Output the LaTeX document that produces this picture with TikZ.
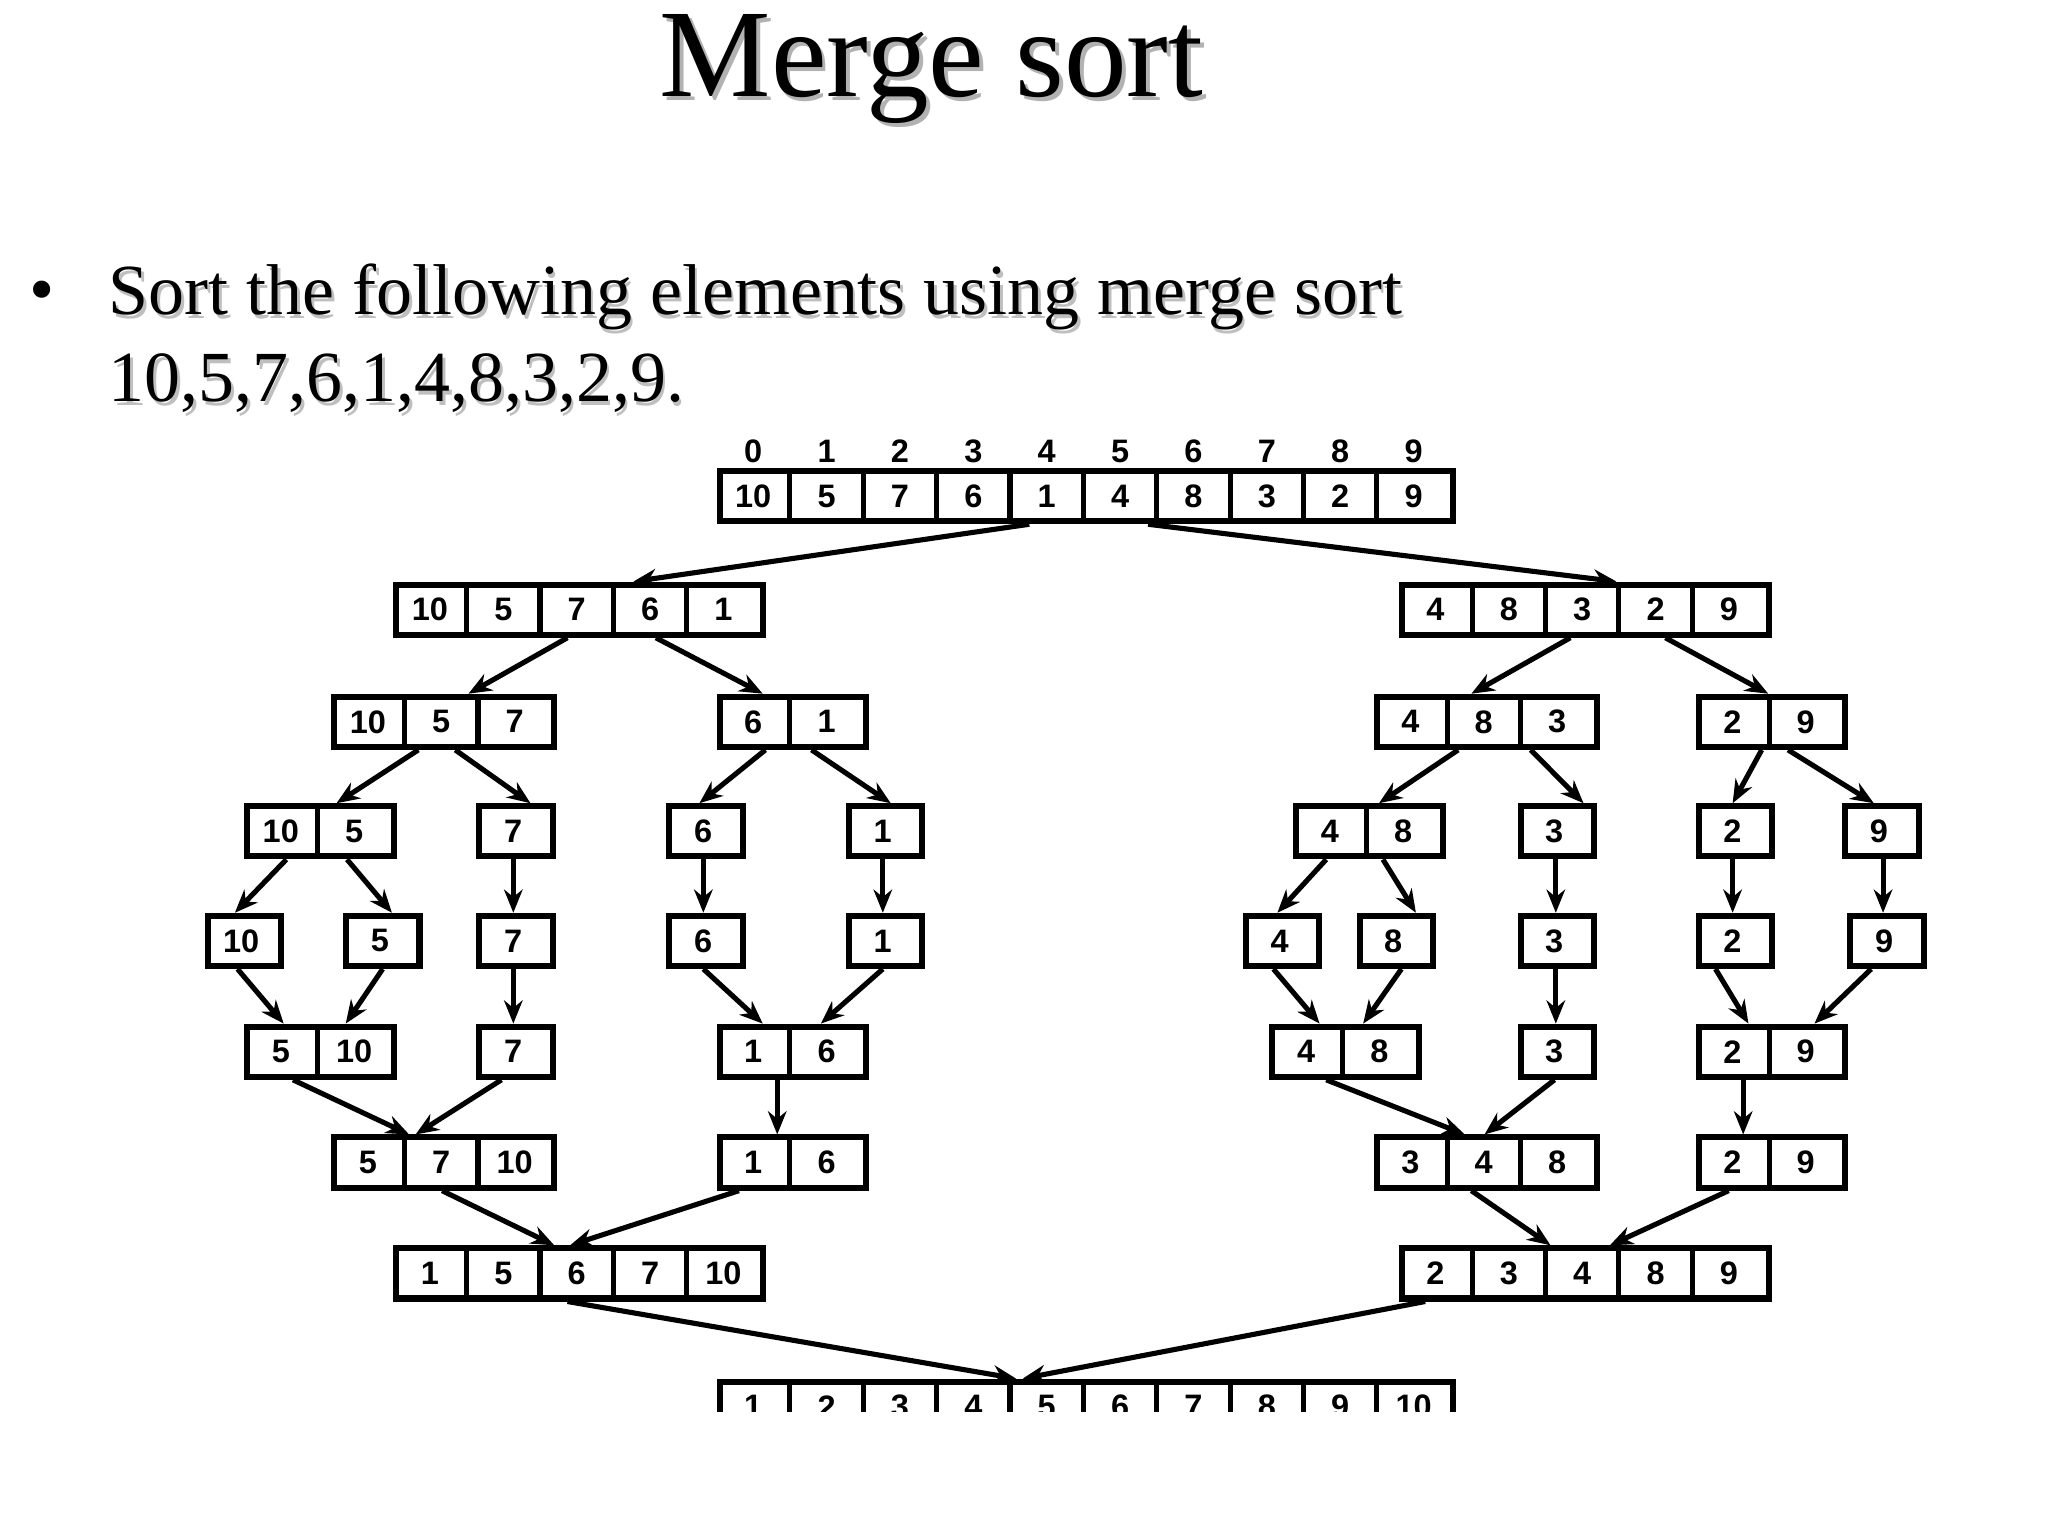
\documentclass[tikz,border=0pt]{standalone}
\usepackage{fontspec}
\setmainfont{Liberation Serif}
\setsansfont{Liberation Sans}
\usetikzlibrary{arrows.meta}
\newcommand\arrnode[5]{%
  \node[draw,line width=1.3pt,minimum width=#4*55.6*0.01cm,minimum height=0.38cm,inner sep=0pt,anchor=west] (#1) at (#2,#3) {};
  \foreach \v [count=\i] in {#5}{%
    \node[cell] at (#2+\i*55.6-27.8,#3) {\v};
    \ifnum\i>1 \draw[line width=1.1pt] (#2+\i*55.6-55.6,#3-19) -- (#2+\i*55.6-55.6,#3+19);\fi}}
\newcommand\arr[4]{\path (#2,0) coordinate (p1) (#4,0) coordinate (p2); \draw[arr] (#1.south -| p1) -- (#3.north -| p2);}
\begin{document}
\begin{tikzpicture}[x=0.01cm,y=-0.01cm,
  cell/.style={font=\sffamily\bfseries\fontsize{7}{8}\selectfont,inner sep=0pt},
  arr/.style={line width=1.1pt,-{Stealth[length=5pt,width=4pt]}}]
\useasboundingbox (0,0) rectangle (1552,1164);
\node[text=gray!60,font=\fontsize{27}{30}\selectfont] at (709,55) {Merge sort};
\node[font=\fontsize{27}{30}\selectfont] (title) at (706,52) {Merge sort};
\node[anchor=west,font=\fontsize{15.5}{18}\selectfont] (b1) at (10,225) {•};
\node[anchor=west,text=gray!50,font=\fontsize{15.5}{18}\selectfont] at (72,228) {Sort the following elements using merge sort};
\node[anchor=west,font=\fontsize{15.5}{18}\selectfont] (t1) at (70,225) {Sort the following elements using merge sort};
\node[anchor=west,text=gray!50,font=\fontsize{15.5}{18}\selectfont] at (72,293) {10,5,7,6,1,4,8,3,2,9.};
\node[anchor=west,font=\fontsize{15.5}{18}\selectfont] (t2) at (70,290) {10,5,7,6,1,4,8,3,2,9.};
\foreach \i in {0,...,9} \node[cell] (ix\i) at (543+\i*55.6+27.8,342) {\i};
\arrnode{top}{543}{376}{10}{10,5,7,6,1,4,8,3,2,9}
\arrnode{L}{298}{462}{5}{10,5,7,6,1}
\arrnode{R}{1060}{462}{5}{4,8,3,2,9}
\arrnode{La}{251}{547}{3}{10,5,7}
\arrnode{Lb}{543}{547}{2}{6,1}
\arrnode{Ra}{1041}{547}{3}{4,8,3}
\arrnode{Rb}{1285}{547}{2}{2,9}
\arrnode{a1}{185}{630}{2}{10,5}
\arrnode{a2}{361}{630}{1}{7}
\arrnode{a3}{505}{630}{1}{6}
\arrnode{a4}{641}{630}{1}{1}
\arrnode{a5}{980}{630}{2}{4,8}
\arrnode{a6}{1150}{630}{1}{3}
\arrnode{a7}{1285}{630}{1}{2}
\arrnode{a8}{1396}{630}{1}{9}
\arrnode{b1n}{155}{713}{1}{10}
\arrnode{b2}{260}{713}{1}{5}
\arrnode{b3}{361}{713}{1}{7}
\arrnode{b4}{505}{713}{1}{6}
\arrnode{b5}{641}{713}{1}{1}
\arrnode{b6}{942}{713}{1}{4}
\arrnode{b7}{1028}{713}{1}{8}
\arrnode{b8}{1150}{713}{1}{3}
\arrnode{b9}{1285}{713}{1}{2}
\arrnode{b10}{1400}{713}{1}{9}
\arrnode{c1}{185}{797}{2}{5,10}
\arrnode{c2}{361}{797}{1}{7}
\arrnode{c3}{543}{797}{2}{1,6}
\arrnode{c4}{962}{797}{2}{4,8}
\arrnode{c5}{1150}{797}{1}{3}
\arrnode{c6}{1285}{797}{2}{2,9}
\arrnode{d1}{251}{881}{3}{5,7,10}
\arrnode{d2}{543}{881}{2}{1,6}
\arrnode{d3}{1041}{881}{3}{3,4,8}
\arrnode{d4}{1285}{881}{2}{2,9}
\arrnode{e1}{298}{965}{5}{1,5,6,7,10}
\arrnode{e2}{1060}{965}{5}{2,3,4,8,9}
\begin{scope}
\clip (0,0) rectangle (1552,1070);
\arrnode{f}{543}{1066}{10}{1,2,3,4,5,6,7,8,9,10}
\end{scope}
\arr{top}{780}{L}{480} \arr{top}{870}{R}{1225}
\arr{L}{430}{La}{355} \arr{L}{497}{Lb}{578}
\arr{R}{1190}{Ra}{1115} \arr{R}{1262}{Rb}{1340}
\arr{La}{317}{a1}{255} \arr{La}{345}{a2}{402}
\arr{Lb}{580}{a3}{530} \arr{Lb}{615}{a4}{675}
\arr{Ra}{1105}{a5}{1045} \arr{Ra}{1160}{a6}{1200}
\arr{Rb}{1335}{a7}{1313} \arr{Rb}{1355}{a8}{1420}
\arr{a1}{217}{b1n}{178} \arr{a1}{263}{b2}{297}
\arr{a2}{389}{b3}{389} \arr{a3}{533}{b4}{533} \arr{a4}{669}{b5}{669}
\arr{a5}{1005}{b6}{968} \arr{a5}{1048}{b7}{1073}
\arr{a6}{1179}{b8}{1179} \arr{a7}{1313}{b9}{1313} \arr{a8}{1427}{b10}{1427}
\arr{b1n}{180}{c1}{215} \arr{b2}{290}{c1}{262}
\arr{b3}{389}{c2}{389} \arr{b4}{533}{c3}{578} \arr{b5}{669}{c3}{622}
\arr{b6}{965}{c4}{1000} \arr{b7}{1062}{c4}{1033}
\arr{b8}{1179}{c5}{1179} \arr{b9}{1300}{c6}{1325} \arr{b10}{1418}{c6}{1375}
\arr{c1}{222}{d1}{310} \arr{c2}{380}{d1}{315}
\arr{c3}{589}{d2}{589}
\arr{c4}{1005}{d3}{1110} \arr{c5}{1178}{d3}{1125}
\arr{c6}{1321}{d4}{1321}
\arr{d1}{335}{e1}{420} \arr{d2}{560}{e1}{432}
\arr{d3}{1115}{e2}{1175} \arr{d4}{1310}{e2}{1220}
\arr{e1}{430}{f}{770} \arr{e2}{1080}{f}{775}
\end{tikzpicture}
\end{document}
